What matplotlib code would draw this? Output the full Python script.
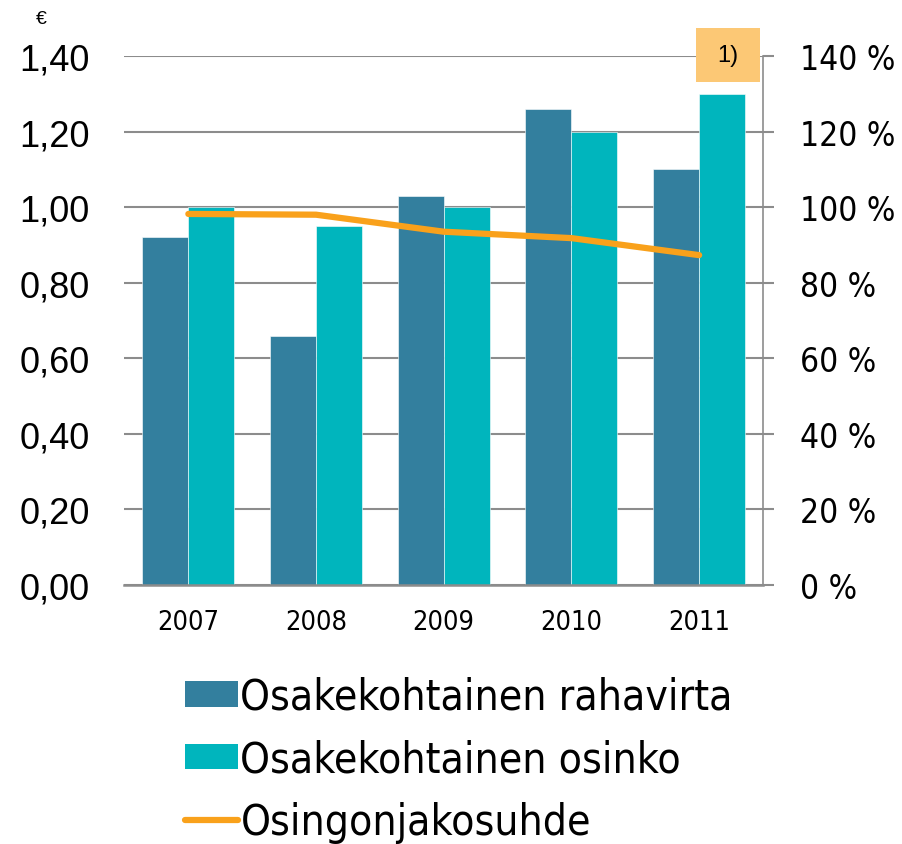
import matplotlib
matplotlib.use('Agg')
import matplotlib.pyplot as plt
import numpy as np
from matplotlib.patches import Patch, Rectangle
from matplotlib.lines import Line2D

# Data
years = ['2007', '2008', '2009', '2010', '2011']
cash_flow = [0.92, 0.66, 1.03, 1.26, 1.10]       # Osakekohtainen rahavirta (EUR)
dividend = [1.00, 0.95, 1.00, 1.20, 1.30]        # Osakekohtainen osinko (EUR)
payout = [98.2, 98.0, 93.5, 91.8, 87.3]          # Osingonjakosuhde (%)
left_ticks = [0.0, 0.2, 0.4, 0.6, 0.8, 1.0, 1.2, 1.4]
right_ticks = [0, 20, 40, 60, 80, 100, 120, 140]
labels = ['Osakekohtainen rahavirta', 'Osakekohtainen osinko', 'Osingonjakosuhde']

DARK = '#337f9e'
CYAN = '#00b5bd'
ORANGE = '#f9a11b'
GRID = '#8c8c8c'
WIDE = ['Liberation Sans', 'DejaVu Sans']
narrow = dict(family='DejaVu Sans', stretch='condensed')

fig = plt.figure(figsize=(9.03, 8.45), dpi=100)
ax = fig.add_axes([124.5 / 903, 1 - 586 / 845, (763 - 124.5) / 903, (586 - 57) / 845])

x = np.arange(len(years))
w = 0.36
ax.bar(x - w / 2, cash_flow, w, color=DARK, edgecolor='white', linewidth=0.4, zorder=2)
ax.bar(x + w / 2, dividend, w, color=CYAN, edgecolor='white', linewidth=0.4, zorder=2)

ax.set_xlim(-0.5, len(years) - 0.5)
ax.set_ylim(0, 1.4)
ax.set_yticks(left_ticks)
ax.set_yticklabels([f'{t:.2f}'.replace('.', ',') for t in left_ticks],
                   family=WIDE, fontsize=26)
ax.set_xticks(x)
ax.set_xticklabels(years, fontsize=19.5, **narrow)
ax.tick_params(axis='y', length=0, pad=25)
ax.tick_params(axis='x', length=0, pad=17)
ax.yaxis.grid(True, color=GRID, linewidth=1.5)
ax.set_axisbelow(True)
for s in ['left', 'top', 'right']:
    ax.spines[s].set_visible(False)
ax.spines['bottom'].set_color(GRID)
ax.spines['bottom'].set_linewidth(1.8)

# Right axis with payout ratio
ax2 = ax.twinx()
for s in ['left', 'top', 'bottom']:
    ax2.spines[s].set_visible(False)
ax2.spines['right'].set_color(GRID)
ax2.spines['right'].set_linewidth(1.2)
ax2.plot(x, payout, color=ORANGE, linewidth=4.5, solid_capstyle='round',
         solid_joinstyle='round', zorder=3)
ax2.set_ylim(0, 140)
ax2.set_yticks(right_ticks)
ax2.set_yticklabels([f'{t} %' for t in right_ticks], fontsize=24, **narrow)
ax2.tick_params(axis='y', length=8, width=1.5, color=GRID, pad=19, direction='out')

# Euro sign and footnote box
fig.text(41 / 903, 1 - 20 / 845, '€', family=WIDE, fontsize=14, ha='center', va='center')
fig.patches.append(Rectangle((696 / 903, 1 - 83 / 845), 64 / 903, 54 / 845,
                             transform=fig.transFigure, facecolor='#fcc875',
                             edgecolor='none', zorder=5))
fig.text(728 / 903, 1 - 56 / 845, '1)', family=WIDE, fontsize=17, ha='center', va='center',
         zorder=6)

handles = [Patch(facecolor=DARK), Patch(facecolor=CYAN),
           Line2D([0], [0], color=ORANGE, linewidth=4.5, solid_capstyle='round')]
fig.legend(handles, labels, loc='upper left', bbox_to_anchor=(185 / 903, 1 - 677 / 845),
           frameon=False, prop=dict(size=30.5, **narrow),
           handlelength=1.25, handleheight=0.55, handletextpad=0.06, labelspacing=0.48,
           borderpad=0, borderaxespad=0)

fig.savefig('out.png', dpi=100)
